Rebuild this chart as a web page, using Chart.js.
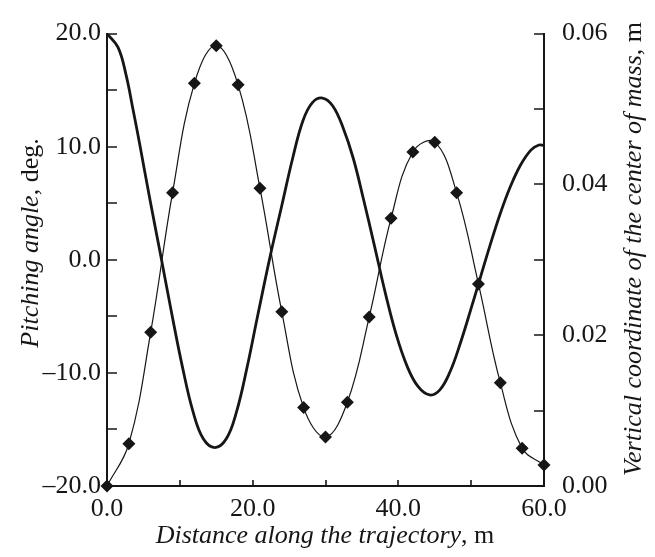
<!DOCTYPE html>
<html>
<head>
<meta charset="utf-8">
<title>Pitching angle and vertical coordinate</title>
<script src="https://cdn.jsdelivr.net/npm/chart.js@4.4.1/dist/chart.umd.min.js"></script>
<style>
  html, body { margin: 0; padding: 0; background: #fff; }
  #wrap { width: 655px; height: 557px; }
</style>
</head>
<body>
<div id="wrap"><canvas id="chart" width="655" height="557"></canvas></div>
<script>
// Pitching angle (thick curve, left axis), deg.
const pitchX = [0, 1.5, 2.6, 3.6, 4.5, 5.9, 7.4, 8.9, 10.4, 11.8, 13.2, 14.8,
    16.4, 17.8, 19.2, 20.7, 22.4, 24.0, 25.5, 26.9, 28.2, 29.6,
    31.0, 32.4, 33.8, 35.2, 36.7, 38.2, 39.7, 41.2, 42.7, 44.3,
    45.7, 47.1, 48.5, 49.9, 51.2, 52.6, 54.0, 55.4, 56.8, 58.2, 59.3, 60.0];
const pitchY = [20.0, 18.8, 16.4, 13.2, 10.2, 5.3, 0.3, -4.8, -9.6, -13.4, -15.8, -16.6,
    -15.8, -13.4, -9.6, -4.9, 0.3, 4.8, 9.0, 12.3, 13.9, 14.3,
    13.6, 11.7, 9.0, 5.4, 1.3, -2.9, -6.6, -9.4, -11.2, -11.95,
    -11.5, -9.9, -7.4, -4.5, -1.7, 1.3, 4.1, 6.5, 8.4, 9.7, 10.15, 10.1];

// Vertical coordinate of the center of mass (thin curve with diamonds, right axis), m
const massX = [0, 3, 6, 9, 12, 15, 18, 21, 24, 27, 30, 33, 36, 39, 42, 45, 48, 51, 54, 57, 60];
const massY = [0.0000, 0.0056, 0.0204, 0.0389, 0.0534, 0.0584, 0.0532, 0.0395, 0.0231, 0.0104,
    0.0065, 0.0111, 0.0224, 0.0355, 0.0443, 0.0456, 0.0389, 0.0268, 0.0137, 0.0050, 0.0028];

// tick labels
const xTickLabels = [0, 20, 40, 60];
const leftTickLabels = [-20, -10, 0, 10, 20];
const rightTickLabels = [0, 0.02, 0.04, 0.06];

const INK = '#161616';
const FONT = "'Liberation Serif', 'Times New Roman', serif";

function fmt(v, digits) {
    const s = Math.abs(v).toFixed(digits);
    return (v < -1e-9 ? '\u2013' : '') + s;
}

function hasLabel(list, v) {
    return list.some(t => Math.abs(t - v) < 1e-6);
}

// draws inward tick marks and the mixed italic/upright axis titles
const axisDecor = {
    id: 'axisDecor',
    afterDraw(chart) {
        const { ctx, chartArea: a, scales } = chart;
        ctx.save();
        ctx.strokeStyle = INK;
        ctx.lineWidth = 1.6;
        ctx.beginPath();
        scales.y.ticks.forEach(t => {
            const py = Math.round(scales.y.getPixelForValue(t.value));
            ctx.moveTo(a.left, py);
            ctx.lineTo(a.left + 10, py);
        });
        scales.y2.ticks.forEach(t => {
            const py = Math.round(scales.y2.getPixelForValue(t.value));
            ctx.moveTo(a.right, py);
            ctx.lineTo(a.right - 10, py);
        });
        scales.x.ticks.forEach(t => {
            const px = Math.round(scales.x.getPixelForValue(t.value));
            ctx.moveTo(px, a.bottom);
            ctx.lineTo(px, a.bottom - 6);
        });
        ctx.stroke();

        ctx.fillStyle = INK;
        ctx.textBaseline = 'alphabetic';
        const drawParts = (parts, cx, cy, rot) => {
            ctx.save();
            ctx.translate(cx, cy);
            ctx.rotate(rot);
            let total = 0;
            parts.forEach(p => { ctx.font = p[1] + ' 26px ' + FONT; total += ctx.measureText(p[0]).width; });
            let x = -total / 2;
            parts.forEach(p => {
                ctx.font = p[1] + ' 26px ' + FONT;
                ctx.fillText(p[0], x, 0);
                x += ctx.measureText(p[0]).width;
            });
            ctx.restore();
        };
        drawParts([['Distance along the trajectory', 'italic'], [', m', 'normal']], 325, 543, 0);
        drawParts([['Pitching angle', 'italic'], [', deg.', 'normal']], 38, 243, -Math.PI / 2);
        drawParts([['Vertical coordinate of the center of mass', 'italic'], [', m', 'normal']], 641, 249, -Math.PI / 2);
        ctx.restore();
    }
};

const tickFont = { family: FONT, size: 26 };

new Chart(document.getElementById('chart'), {
    type: 'line',
    data: {
        datasets: [{
            label: 'Pitching angle',
            data: pitchX.map((x, i) => ({ x: x, y: pitchY[i] })),
            yAxisID: 'y',
            borderColor: INK,
            borderWidth: 2.8,
            pointRadius: 0,
            tension: 0.4,
            fill: false
        }, {
            label: 'Vertical coordinate',
            data: massX.map((x, i) => ({ x: x, y: massY[i] })),
            yAxisID: 'y2',
            borderColor: INK,
            borderWidth: 1.2,
            pointStyle: 'rectRot',
            pointRadius: 6.5,
            pointBackgroundColor: INK,
            pointBorderColor: INK,
            pointBorderWidth: 0,
            tension: 0.4,
            fill: false,
            clip: false
        }]
    },
    options: {
        responsive: false,
        animation: false,
        events: [],
        layout: { padding: { top: 20, left: 0, right: 0, bottom: 0 } },
        plugins: { legend: { display: false }, tooltip: { enabled: false } },
        scales: {
            x: {
                type: 'linear',
                min: 0, max: 60,
                grid: { display: false, drawTicks: false },
                border: { display: true, color: INK, width: 2 },
                ticks: {
                    stepSize: 10, padding: 8, color: INK, font: tickFont, maxRotation: 0,
                    callback: v => hasLabel(xTickLabels, v) ? fmt(v, 1) : ''
                },
                afterFit: s => { s.height = 71; }
            },
            y: {
                type: 'linear', position: 'left',
                min: -20, max: 20,
                grid: { display: false, drawTicks: false },
                border: { display: true, color: INK, width: 2 },
                ticks: {
                    stepSize: 5, padding: 6, color: INK, font: tickFont,
                    callback: v => hasLabel(leftTickLabels, v) ? fmt(v, 1) : ''
                },
                afterFit: s => { s.width = 107; }
            },
            y2: {
                type: 'linear', position: 'right',
                min: 0, max: 0.06,
                grid: { display: false, drawTicks: false },
                border: { display: true, color: INK, width: 2 },
                ticks: {
                    stepSize: 0.01, padding: 18, color: INK, font: tickFont,
                    callback: v => hasLabel(rightTickLabels, v) ? fmt(v, 2) : ''
                },
                afterFit: s => { s.width = 111; }
            }
        }
    },
    plugins: [axisDecor]
});
</script>
</body>
</html>
